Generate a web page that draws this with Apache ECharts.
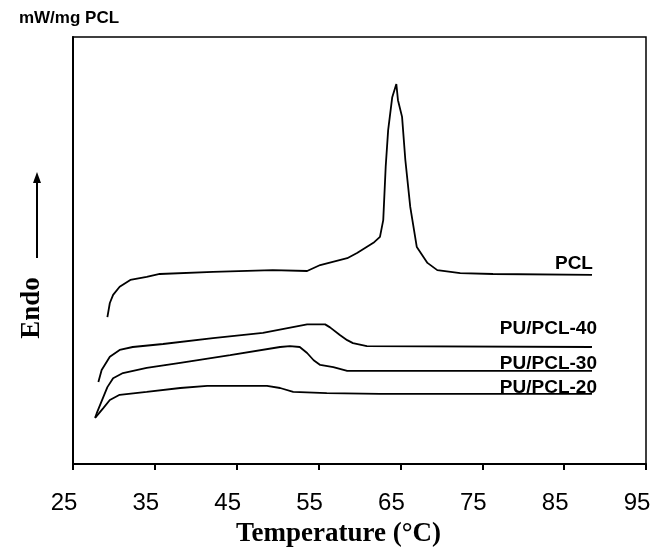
<!DOCTYPE html>
<html>
<head>
<meta charset="utf-8">
<script src="https://cdn.jsdelivr.net/npm/echarts@6/dist/echarts.min.js"></script>
<style>
  html, body {margin: 0; padding: 0; background: #fff;}
  #chart {width: 666px; height: 549px;}
</style>
</head>
<body>
<div id="chart"></div>
<script>
// temperature (°C) and heat flow (arbitrary units)
const pclT = [29.2, 29.5, 29.9, 30.7, 32.0, 34.0, 35.6, 42.1, 49.4, 53.6, 55.2, 58.5, 59.7, 61.7, 62.5, 62.9, 63.2, 63.5, 64.0, 64.5, 64.7, 65.2, 65.6, 66.2, 67.0, 68.3, 69.5, 72.3, 76.3, 88.4];
const pclY = [3.44, 3.77, 3.96, 4.15, 4.31, 4.38, 4.45, 4.50, 4.54, 4.52, 4.66, 4.82, 4.94, 5.18, 5.32, 5.71, 6.96, 7.82, 8.59, 8.90, 8.52, 8.13, 7.12, 6.02, 5.08, 4.71, 4.54, 4.47, 4.45, 4.43];

const pu40T = [28.1, 28.5, 29.5, 30.7, 32.3, 36.0, 42.1, 48.2, 53.6, 55.8, 56.4, 57.6, 58.5, 59.2, 60.9, 88.4];
const pu40Y = [1.92, 2.20, 2.51, 2.67, 2.74, 2.81, 2.95, 3.07, 3.27, 3.27, 3.20, 3.02, 2.90, 2.83, 2.76, 2.74];

const pu30T = [27.7, 27.9, 29.2, 29.9, 31.1, 34.0, 38.1, 44.2, 50.3, 51.5, 52.7, 53.6, 54.4, 55.2, 56.8, 58.5, 88.4];
const pu30Y = [1.08, 1.19, 1.80, 2.01, 2.13, 2.25, 2.37, 2.55, 2.74, 2.76, 2.74, 2.60, 2.43, 2.32, 2.27, 2.18, 2.18];

const pu20T = [27.7, 28.7, 29.5, 30.7, 34.0, 38.1, 41.4, 48.7, 50.3, 51.9, 56.0, 62.5, 88.4];
const pu20Y = [1.08, 1.31, 1.50, 1.62, 1.69, 1.78, 1.83, 1.83, 1.78, 1.69, 1.66, 1.64, 1.64];

const xTicks = [25, 35, 45, 55, 65, 75, 85, 95];

const pairs = (xs, ys) => xs.map((x, i) => [x, ys[i]]);

const myChart = echarts.init(document.getElementById('chart'));

const curve = (name, xs, ys, off) => ({
  name,
  type: 'line',
  data: pairs(xs, ys),
  symbol: 'none',
  lineStyle: {color: '#000', width: 1.8},
  endLabel: {
    show: true,
    formatter: '{a}',
    color: '#000',
    fontFamily: 'Liberation Sans',
    fontWeight: 'bold',
    fontSize: 19,
    align: 'right',
    verticalAlign: 'bottom',
    offset: off,
  },
  animation: false,
});

myChart.setOption({
  animation: false,
  grid: {
    left: 73,
    right: 20,
    top: 37,
    bottom: 85,
    outerBoundsMode: 'none',
    containLabel: false,
    show: true,
    borderColor: '#000',
    borderWidth: 1.5,
  },
  xAxis: {
    type: 'value',
    min: 25,
    max: 95,
    interval: 10,
    name: 'Temperature (°C)',
    nameLocation: 'middle',
    nameGap: 57,
    nameTextStyle: {
      fontFamily: 'Liberation Serif',
      fontWeight: 'bold',
      fontSize: 27,
      color: '#000',
      padding: [0, 42, 0, 0],
    },
    splitLine: {show: false},
    axisLine: {lineStyle: {color: '#000', width: 2}},
    axisTick: {show: true, length: 6, lineStyle: {color: '#000', width: 2}},
    axisLabel: {
      color: '#000',
      fontFamily: 'Liberation Sans',
      fontSize: 24,
      margin: 27,
      padding: [0, 18, 0, 0],
      formatter: (v) => xTicks.includes(v) ? String(v) : '',
    },
  },
  yAxis: {
    type: 'value',
    min: 0,
    max: 10,
    name: 'mW/mg PCL',
    nameLocation: 'end',
    nameGap: 10,
    nameTextStyle: {
      fontFamily: 'Liberation Sans',
      fontWeight: 'bold',
      fontSize: 17,
      color: '#000',
      align: 'center',
      padding: [0, 8, 0, 0],
    },
    splitLine: {show: false},
    axisLine: {show: true, lineStyle: {color: '#000', width: 2}},
    axisTick: {show: false},
    axisLabel: {show: false},
  },
  graphic: [
    {
      type: 'text',
      x: 32,
      y: 308,
      rotation: Math.PI / 2,
      style: {
        text: 'Endo',
        font: 'bold 27px "Liberation Serif"',
        fill: '#000',
        align: 'center',
        verticalAlign: 'middle',
      },
    },
    {
      type: 'line',
      shape: {x1: 37, y1: 258, x2: 37, y2: 180},
      style: {stroke: '#000', lineWidth: 2},
    },
    {
      type: 'polygon',
      shape: {points: [[33, 183], [41, 183], [37, 172]]},
      style: {fill: '#000'},
    },
  ],
  series: [
    curve('PCL', pclT, pclY, [-7, -2]),
    curve('PU/PCL-40', pu40T, pu40Y, [-3, -9]),
    curve('PU/PCL-30', pu30T, pu30Y, [-3, 2]),
    curve('PU/PCL-20', pu20T, pu20Y, [-3, 3]),
  ],
});
</script>
</body>
</html>
